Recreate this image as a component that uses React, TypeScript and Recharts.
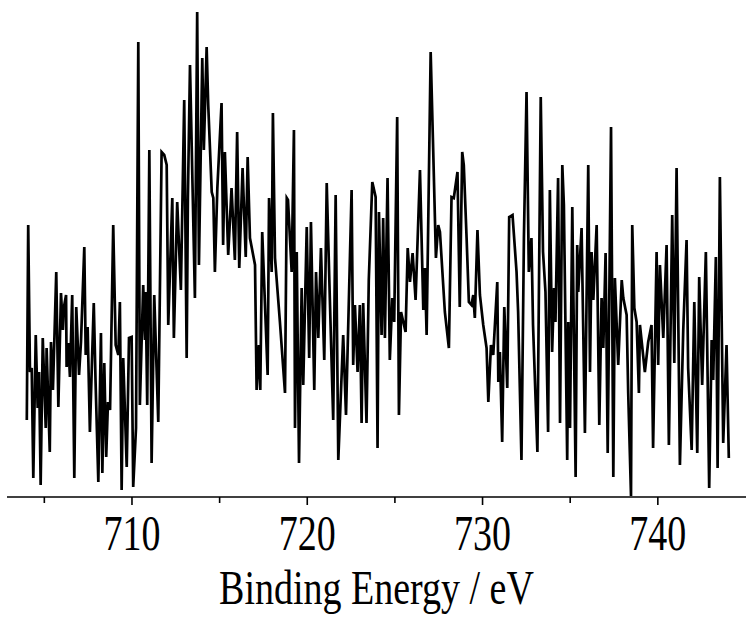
import { Label, Line, LineChart, XAxis, YAxis } from "recharts";

// Fe 2p region, binding energy (eV) vs intensity (a.u.)
const energy = [
  704.0, 704.08, 704.18, 704.28, 704.37, 704.51, 704.62, 704.7, 704.79, 704.91,
  705.08, 705.13, 705.31, 705.38, 705.49, 705.68, 705.8, 705.95, 706.06, 706.12,
  706.24, 706.27, 706.37, 706.46, 706.59, 706.71, 706.82, 706.98, 707.09, 707.28,
  707.36, 707.47, 707.6, 707.72, 707.82, 707.92, 708.08, 708.23, 708.31, 708.42,
  708.53, 708.63, 708.75, 708.93, 709.07, 709.22, 709.31, 709.41, 709.5, 709.7,
  709.83, 709.98, 710.07, 710.23, 710.36, 710.45, 710.64, 710.74, 710.78, 710.87,
  710.99, 711.12, 711.27, 711.5, 711.69, 711.84, 711.98, 712.07, 712.3, 712.39,
  712.58, 712.79, 712.98, 713.12, 713.19, 713.31, 713.59, 713.72, 713.82, 714.01,
  714.1, 714.26, 714.35, 714.55, 714.64, 714.73, 714.87, 715.11, 715.2, 715.3,
  715.49, 715.68, 715.87, 716.0, 716.12, 716.31, 716.49, 716.6, 716.73, 717.02,
  717.11, 717.24, 717.32, 717.43, 717.74, 717.82, 717.97, 718.04, 718.16, 718.44,
  718.73, 718.83, 718.9, 719.11, 719.24, 719.3, 719.4, 719.53, 719.68, 719.77,
  719.97, 720.11, 720.21, 720.4, 720.5, 720.63, 720.78, 720.97, 721.11, 721.29,
  721.48, 721.62, 721.77, 722.05, 722.21, 722.53, 722.62, 722.72, 722.87, 723.0,
  723.1, 723.19, 723.38, 723.51, 723.71, 723.9, 724.01, 724.09, 724.24, 724.33,
  724.43, 724.58, 724.71, 724.85, 724.96, 725.13, 725.23, 725.35, 725.61, 725.73,
  725.86, 726.01, 726.18, 726.43, 726.62, 726.71, 726.81, 727.04, 727.17, 727.34,
  727.47, 727.57, 727.85, 728.08, 728.23, 728.36, 728.57, 728.7, 728.84, 728.93,
  729.09, 729.22, 729.37, 729.47, 729.56, 729.71, 729.85, 730.04, 730.23, 730.33,
  730.48, 730.61, 730.84, 730.9, 730.99, 731.12, 731.24, 731.41, 731.52, 731.71,
  731.94, 732.03, 732.22, 732.36, 732.51, 732.64, 732.79, 732.88, 733.13, 733.32,
  733.45, 733.59, 733.74, 733.84, 733.97, 734.08, 734.16, 734.31, 734.42, 734.55,
  734.64, 734.83, 734.89, 734.99, 735.12, 735.31, 735.4, 735.46, 735.65, 735.84,
  736.03, 736.13, 736.22, 736.32, 736.51, 736.66, 736.79, 736.89, 737.02, 737.14,
  737.33, 737.46, 737.55, 737.74, 737.94, 738.03, 738.22, 738.31, 738.47, 738.54,
  738.66, 738.79, 738.92, 738.98, 739.26, 739.45, 739.64, 739.73, 739.93, 740.02,
  740.12, 740.31, 740.5, 740.63, 740.82, 740.94, 741.07, 741.26, 741.45, 741.64,
  741.73, 741.93, 742.08, 742.25, 742.36, 742.53, 742.74, 742.93, 743.07, 743.16,
  743.31, 743.41, 743.54, 743.73, 743.92, 744.05,
];

const intensity = [
  76, 271, 124, 128, 18, 161, 88, 124, 11, 158,
  68, 148, 44, 154, 106, 224, 89, 203, 166, 189,
  201, 129, 153, 119, 201, 18, 189, 121, 154, 249,
  141, 169, 64, 136, 193, 116, 14, 163, 23, 133,
  39, 94, 86, 271, 151, 141, 194, 6, 138, 29,
  158, 159, 9, 68, 454, 91, 211, 156, 204, 91,
  346, 33, 201, 74, 344, 341, 331, 171, 298, 158,
  294, 206, 396, 138, 298, 431, 198, 484, 231, 438,
  346, 449, 391, 304, 298, 224, 308, 393, 251, 344,
  241, 308, 236, 364, 228, 328, 239, 339, 258, 231,
  106, 151, 106, 264, 121, 298, 224, 383, 238, 174,
  103, 298, 296, 224, 366, 68, 244, 33, 208, 111,
  269, 138, 274, 106, 224, 158, 248, 136, 313, 196,
  76, 301, 36, 161, 81, 306, 131, 191, 124, 191,
  73, 193, 73, 216, 314, 299, 48, 284, 161, 278,
  158, 318, 136, 198, 174, 379, 81, 184, 164, 248,
  214, 243, 196, 326, 186, 228, 161, 444, 356, 238,
  271, 264, 184, 148, 299, 298, 324, 189, 344, 331,
  258, 194, 191, 201, 178, 266, 201, 171, 148, 94,
  151, 141, 214, 114, 144, 54, 189, 108, 279, 281,
  224, 184, 36, 258, 404, 224, 258, 171, 44, 399,
  244, 204, 64, 306, 144, 208, 174, 318, 73, 331,
  291, 36, 174, 68, 289, 19, 251, 204, 268, 63,
  331, 124, 244, 196, 271, 71, 198, 148, 243, 43,
  369, 19, 218, 131, 216, 198, 181, 103, 0, 271,
  188, 174, 103, 171, 124, 154, 171, 48, 244, 131,
  231, 158, 251, 51, 281, 133, 328, 31, 166, 256,
  128, 46, 194, 43, 219, 111, 244, 8, 156, 116,
  239, 28, 319, 53, 151, 38,
];

const xTicks = [705, 710, 715, 720, 725, 730, 735, 740];

const data = energy.map((e, i) => ({ e, v: intensity[i] }));

const FONT = "'Liberation Serif', 'Times New Roman', serif";

// the source figure's text is a bit stretched vertically
function AxisTick(props: any) {
  const { x, y, payload } = props;
  const major = payload.value % 10 === 0;
  return (
    <g>
      <line x1={x} x2={x} y1={y} y2={y + (major ? 8 : 6)} stroke="#000" strokeWidth={1.6} />
      {major && (
        <text
          transform={`translate(${x},${y + 53}) scale(1,1.35)`}
          textAnchor="middle"
          fontSize={38}
          fontFamily={FONT}
          fill="#000"
        >
          {payload.value}
        </text>
      )}
    </g>
  );
}

export default function App() {
  return (
    <div style={{ width: 746, height: 621, background: "#fff" }}>
      <style>{`body{margin:0}`}</style>
      <LineChart
        width={746}
        height={621}
        data={data}
        margin={{ top: 0, right: 0, left: 7, bottom: 0 }}
      >
        <XAxis
          dataKey="e"
          type="number"
          domain={[702.87, 745.03]}
          allowDataOverflow
          ticks={xTicks}
          interval={0}
          tick={<AxisTick />}
          tickLine={false}
          tickSize={0}
          tickMargin={0}
          axisLine={{ stroke: "#000", strokeWidth: 1.6 }}
          height={124}
        >
          <Label
            content={(p: any) => {
              const vb = p.viewBox;
              return (
                <text
                  transform={`translate(${vb.x + vb.width / 2},${vb.y + 107}) scale(1,1.3)`}
                  textAnchor="middle"
                  fontSize={38}
                  fontFamily={FONT}
                  fill="#000"
                >
                  Binding Energy / eV
                </text>
              );
            }}
          />
        </XAxis>
        <YAxis hide domain={[-1, 496]} allowDataOverflow />
        <Line
          type="linear"
          dataKey="v"
          stroke="#000"
          strokeWidth={2.7}
          dot={false}
          isAnimationActive={false}
        />
      </LineChart>
    </div>
  );
}
